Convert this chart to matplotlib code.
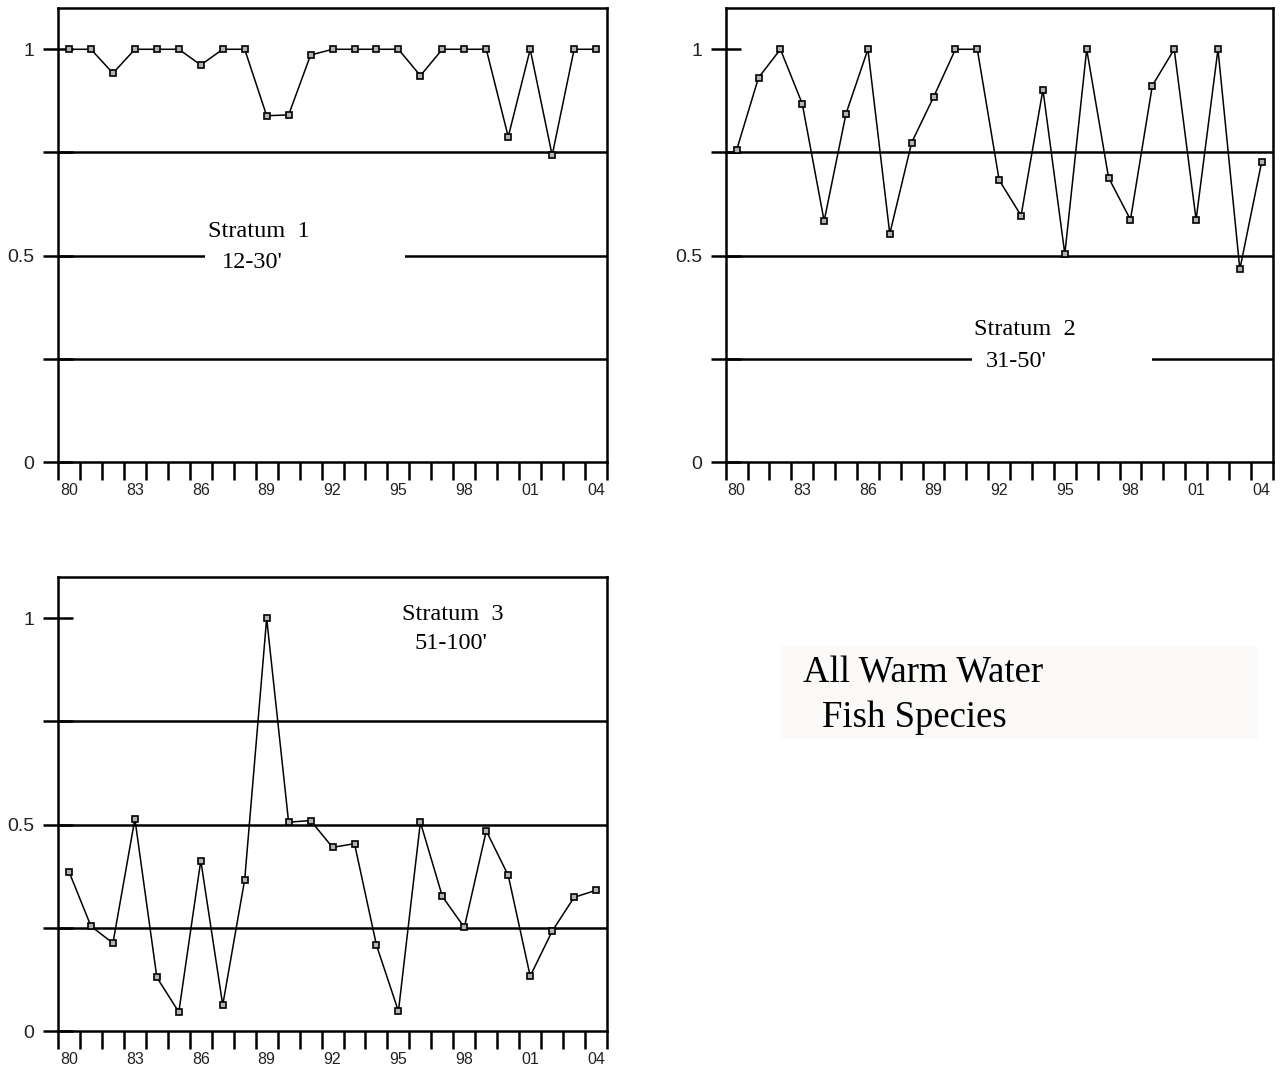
import numpy as np
import matplotlib
matplotlib.use("Agg")
import matplotlib.pyplot as plt
from matplotlib.patches import Rectangle

# survey years (two-digit labels) and proportion values per depth stratum
years = ['80', '81', '82', '83', '84', '85', '86', '87', '88', '89', '90', '91', '92',
         '93', '94', '95', '96', '97', '98', '99', '00', '01', '02', '03', '04']
stratum1 = [1.0, 1.0, 0.942, 1.0, 1.0, 1.0, 0.962, 1.0, 1.0, 0.839, 0.841, 0.986, 1.0,
            1.0, 1.0, 1.0, 0.936, 1.0, 1.0, 1.0, 0.788, 1.0, 0.743, 1.0, 1.0]
stratum2 = [0.756, 0.931, 1.0, 0.868, 0.584, 0.844, 1.0, 0.553, 0.774, 0.884, 1.0, 1.0, 0.683,
            0.597, 0.902, 0.504, 1.0, 0.689, 0.587, 0.912, 1.0, 0.587, 1.0, 0.467, 0.728]
stratum3 = [0.386, 0.254, 0.213, 0.514, 0.130, 0.046, 0.413, 0.063, 0.367, 1.0, 0.506, 0.510, 0.445,
            0.454, 0.208, 0.048, 0.506, 0.326, 0.251, 0.485, 0.377, 0.133, 0.242, 0.324, 0.341]

grid_levels = [0.25, 0.5, 0.75]
ytick_vals = [0, 0.25, 0.5, 0.75, 1]
ytick_text = ['0', '', '0.5', '', '1']

SERIF = 'Liberation Serif'
SANS = 'Liberation Sans'
LW = 1.8

fig = plt.figure(figsize=(12.81, 10.67), dpi=100)


def draw_panel(rect, values, title, depth, title_xy, depth_xy, mask=None):
	ax = fig.add_axes(rect)
	x = np.arange(len(years))
	ax.set_xlim(-0.5, len(years) - 0.5)
	ax.set_ylim(0, 1.1)
	for s in ax.spines.values():
		s.set_linewidth(LW)
	for lvl in grid_levels:
		ax.axhline(lvl, color='black', lw=LW, zorder=1)
	# white patch that breaks the gridline under the label
	if mask is not None:
		ax.add_patch(Rectangle((mask[0], mask[2]), mask[1] - mask[0], mask[3] - mask[2],
				transform=ax.transAxes, facecolor='white', edgecolor='none', zorder=2))
	ax.plot(x, values, color='black', lw=1.1, marker='s', ms=4.6, mfc='#b4b4b4',
			mec='black', mew=1.2, zorder=3, clip_on=False)

	# boundary ticks between years, labels every third year
	ax.set_xticks(np.arange(-0.5, len(years)), [''] * (len(years) + 1))
	ax.set_xticks(x[::3], [years[i] for i in x[::3]], minor=True)
	ax.tick_params(axis='x', which='major', direction='out', length=13, width=LW)
	ax.tick_params(axis='x', which='minor', length=0, pad=15, labelsize=11.5)
	ax.set_yticks(ytick_vals, ytick_text)
	ax.tick_params(axis='y', direction='inout', length=22, width=LW, pad=6, labelsize=14)
	for lab in ax.get_xticklabels(minor=True) + ax.get_yticklabels():
		lab.set_family(SANS)
		lab.set_color('#222222')

	ax.text(title_xy[0], title_xy[1], title, family=SERIF, fontsize=17.5, ha='left',
			va='baseline', zorder=4)
	ax.text(depth_xy[0], depth_xy[1], depth, family=SERIF, fontsize=17.5, ha='left',
			va='baseline', zorder=4)
	return ax


draw_panel([0.0453, 0.567, 0.4286, 0.4255], stratum1, 'Stratum  1', "12-30'",
		(6.32, 0.544), (6.95, 0.471), mask=(0.268, 0.632, 0.40, 0.52))
draw_panel([0.5665, 0.567, 0.4270, 0.4255], stratum2, 'Stratum  2', "31-50'",
		(10.85, 0.308), (11.38, 0.231), mask=(0.450, 0.779, 0.19, 0.26))
draw_panel([0.0453, 0.0337, 0.4286, 0.4255], stratum3, 'Stratum  3', "51-100'",
		(15.18, 0.995), (15.73, 0.925))

# caption block with pale background
fig.patches.append(Rectangle((0.609, 0.3074), 0.373, 0.0872, transform=fig.transFigure,
		facecolor='#fbfaf8', edgecolor='none', zorder=0))
fig.text(0.627, 0.360, 'All Warm Water', family=SERIF, fontsize=26.5, va='baseline')
fig.text(0.642, 0.3186, 'Fish Species', family=SERIF, fontsize=26.5, va='baseline')

fig.savefig('out.png', dpi=100)
